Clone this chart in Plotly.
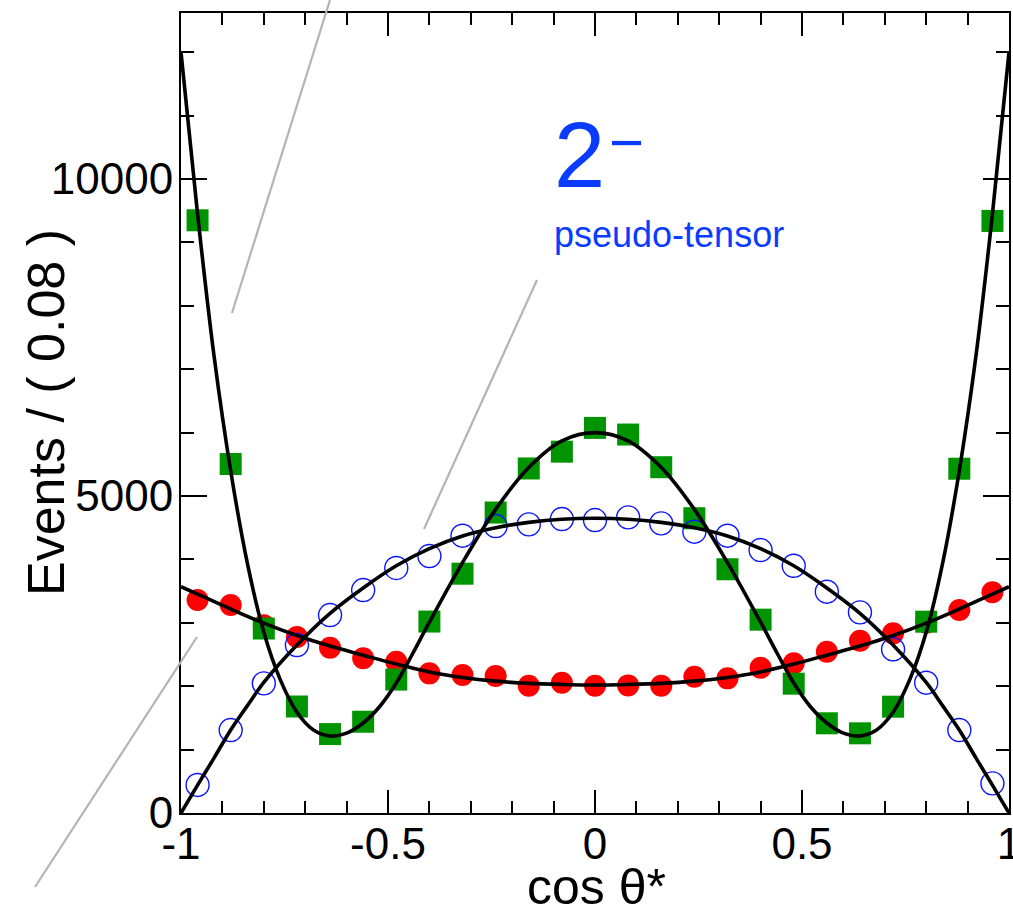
import plotly.graph_objects as go

# ---- data ----
bin_centers = [-0.96, -0.88, -0.80, -0.72, -0.64, -0.56, -0.48, -0.40, -0.32, -0.24, -0.16, -0.08,
               0.0, 0.08, 0.16, 0.24, 0.32, 0.40, 0.48, 0.56, 0.64, 0.72, 0.80, 0.88, 0.96]

green_squares = [9350, 5505, 2910, 1680, 1245, 1440, 2105, 3020, 3775, 4740, 5435, 5700,
                 6075, 5970, 5455, 4650, 3845, 3050, 2040, 1415, 1257, 1677, 3018, 5431, 9340]
blue_circles = [442, 1309, 2045, 2650, 3123, 3517, 3865, 4054, 4374, 4527, 4553, 4637,
                4621, 4664, 4569, 4437, 4374, 4148, 3900, 3491, 3165, 2582, 2055, 1309, 468]
red_circles = [3360, 3281, 2960, 2776, 2607, 2440, 2387, 2203, 2177, 2161, 2008, 2055,
               2008, 2013, 2008, 2150, 2124, 2292, 2361, 2544, 2718, 2834, 3000, 3202, 3481]

# fit curves
red_fit_x = [-1.0, -0.96, -0.88, -0.80, -0.72, -0.64, -0.56, -0.48, -0.40, -0.32, -0.24, -0.16, -0.08,
             0.0, 0.08, 0.16, 0.24, 0.32, 0.40, 0.48, 0.56, 0.64, 0.72, 0.80, 0.88, 0.96, 1.0]
red_fit_y = [3570, 3453, 3218, 2995, 2799, 2633, 2490, 2350, 2225, 2138, 2080, 2045, 2028,
             2020, 2028, 2045, 2080, 2138, 2225, 2350, 2490, 2633, 2799, 2995, 3218, 3453, 3570]

blue_fit_x = [-1.0, -0.96, -0.92, -0.88, -0.84, -0.80, -0.72, -0.64, -0.56, -0.48, -0.40, -0.32, -0.24,
              -0.16, -0.08, 0.0, 0.08, 0.16, 0.24, 0.32, 0.40, 0.48, 0.56, 0.64, 0.72, 0.80, 0.84,
              0.88, 0.92, 0.96, 1.0]
blue_fit_y = [0, 440, 870, 1310, 1690, 2060, 2650, 3150, 3550, 3900, 4170, 4370, 4500,
              4585, 4635, 4650, 4635, 4585, 4500, 4370, 4170, 3900, 3550, 3150, 2650, 2060, 1690,
              1310, 870, 440, 0]

green_fit_x = [-1.0, -0.96, -0.92, -0.88, -0.84, -0.80, -0.76, -0.72, -0.68, -0.64, -0.60, -0.56, -0.52,
               -0.48, -0.44, -0.40, -0.32, -0.24, -0.16, -0.08, 0.0, 0.08, 0.16, 0.24, 0.32, 0.40,
               0.44, 0.48, 0.52, 0.56, 0.60, 0.64, 0.68, 0.72, 0.76, 0.80, 0.84, 0.88, 0.92, 0.96, 1.0]
green_fit_y = [12000, 9450, 7200, 5400, 3950, 2850, 2100, 1590, 1310, 1215, 1260, 1420, 1680,
               2050, 2520, 3010, 3950, 4790, 5450, 5870, 6000, 5870, 5450, 4790, 3950, 3010,
               2520, 2050, 1680, 1420, 1260, 1215, 1310, 1590, 2100, 2850, 3950, 5400, 7200, 9450, 12000]

x_tick_vals = [-1, -0.5, 0, 0.5, 1]
x_tick_text = ["-1", "-0.5", "0", "0.5", "1"]
y_tick_vals = [0, 5000, 10000]
y_tick_text = ["0", "5000", "10000"]

FONT = "Liberation Sans, Arial, Helvetica, sans-serif"
TEXT_BLUE = "#0a3cff"

fig = go.Figure()

fig.add_trace(go.Scatter(x=bin_centers, y=red_circles, mode="markers",
                         marker=dict(symbol="circle", size=22, color="#ff0000", line=dict(width=0)),
                         showlegend=False))
fig.add_trace(go.Scatter(x=bin_centers, y=green_squares, mode="markers",
                         marker=dict(symbol="square", size=22, color="#009400", line=dict(width=0)),
                         showlegend=False))
fig.add_trace(go.Scatter(x=bin_centers, y=blue_circles, mode="markers",
                         marker=dict(symbol="circle-open", size=23, color="#0a14ff", line=dict(width=1.4)),
                         showlegend=False))

for cx, cy in [(red_fit_x, red_fit_y), (blue_fit_x, blue_fit_y), (green_fit_x, green_fit_y)]:
    fig.add_trace(go.Scatter(x=cx, y=cy, mode="lines",
                             line=dict(color="black", width=3.6, shape="spline", smoothing=1.0),
                             showlegend=False, cliponaxis=True))

axis_common = dict(showline=True, linecolor="black", linewidth=2, mirror="ticks",
                   ticks="inside", tickwidth=2, tickcolor="black", showgrid=False, zeroline=False,
                   ticklabeloverflow="allow", automargin=False,
                   tickfont=dict(family=FONT, size=44, color="black"))

fig.update_xaxes(range=[-1, 1], tickmode="array", tickvals=x_tick_vals, ticktext=x_tick_text,
                 ticklen=23, ticklabelstandoff=-9,
                 minor=dict(ticks="inside", dtick=0.1, tick0=0, ticklen=12,
                            tickwidth=2, tickcolor="black", showgrid=False),
                 **axis_common)
fig.update_yaxes(range=[0, 12620], tickmode="array", tickvals=y_tick_vals, ticktext=y_tick_text,
                 ticklen=26, ticklabelstandoff=-3,
                 minor=dict(ticks="inside", dtick=1000, tick0=0, ticklen=13,
                            tickwidth=2, tickcolor="black", showgrid=False),
                 **axis_common)

L, R, T, B = 181, 4, 13, 103
W, H = 1013, 916

def px(xpix):
    return (xpix - L) / (W - L - R)

def py(ypix):
    return (H - B - ypix) / (H - T - B)

gray = dict(color="#b4b4b4", width=2.2)
for (x0, y0, x1, y1) in [(232, 313, 330, 0), (537, 280, 424, 529), (197, 637, 35, 887)]:
    fig.add_shape(type="line", xref="paper", yref="paper",
                  x0=px(x0), y0=py(y0), x1=px(x1), y1=py(y1), line=gray, layer="above")

fig.add_annotation(xref="paper", yref="paper", x=px(552), y=py(155), xanchor="left", yanchor="middle",
                   text="2", showarrow=False,
                   font=dict(family=FONT, size=92, color=TEXT_BLUE))
fig.add_annotation(xref="paper", yref="paper", x=px(626), y=py(142), xanchor="center", yanchor="middle",
                   text="−", showarrow=False,
                   font=dict(family=FONT, size=60, color=TEXT_BLUE))
fig.add_annotation(xref="paper", yref="paper", x=px(552), y=py(257), xanchor="left", yanchor="bottom",
                   text="pseudo-tensor", showarrow=False,
                   font=dict(family=FONT, size=36, color=TEXT_BLUE))

fig.add_annotation(xref="paper", yref="paper", x=px(46), y=py(413), xanchor="center", yanchor="middle",
                   text="Events / ( 0.08 )", textangle=-90, showarrow=False,
                   font=dict(family=FONT, size=52, color="black"))
fig.add_annotation(xref="paper", yref="paper", x=px(596), y=py(887), xanchor="center", yanchor="middle",
                   text="cos θ*", showarrow=False,
                   font=dict(family=FONT, size=50, color="black"))

fig.update_layout(width=W, height=H, margin=dict(l=L, r=R, t=T, b=B, autoexpand=False),
                  plot_bgcolor="white", paper_bgcolor="white", showlegend=False)

fig.write_html("out.html")
